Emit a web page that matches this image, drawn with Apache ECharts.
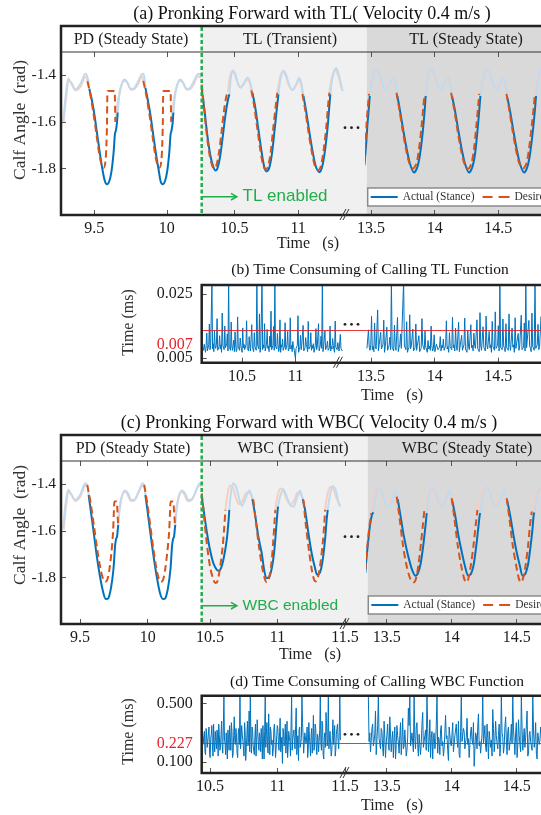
<!DOCTYPE html>
<html>
<head>
<meta charset="utf-8">
<script src="https://cdn.jsdelivr.net/npm/echarts@6/dist/echarts.min.js"></script>
<style>
html,body{margin:0;padding:0;background:#fff}
#chart{width:541px;height:815px}
</style>
</head>
<body>
<div id="chart"></div>
<script>
// ---------- Calf angle, pronking with TL (rad) ----------
// each piece is one stance or swing phase: [time (s), angle (rad)]
const tlPdActualSwing = [
  [[9.286,-1.596],[9.302,-1.489],[9.321,-1.414],[9.339,-1.433],[9.367,-1.461],[9.401,-1.440],[9.429,-1.401],[9.442,-1.393],[9.459,-1.426],[9.465,-1.458]],
  [[9.661,-1.560],[9.672,-1.489],[9.688,-1.440],[9.707,-1.418],[9.723,-1.426],[9.750,-1.458],[9.769,-1.458],[9.796,-1.433],[9.826,-1.397],[9.838,-1.393],[9.847,-1.418],[9.852,-1.454]],
  [[10.045,-1.560],[10.056,-1.489],[10.072,-1.440],[10.091,-1.418],[10.107,-1.426],[10.134,-1.458],[10.153,-1.458],[10.180,-1.433],[10.210,-1.397],[10.222,-1.393],[10.236,-1.405]]
];
const tlPdActualStance = [
  [[9.465,-1.458],[9.482,-1.504],[9.500,-1.567],[9.521,-1.660],[9.539,-1.738],[9.557,-1.809],[9.573,-1.855],[9.587,-1.868],[9.603,-1.855],[9.619,-1.809],[9.633,-1.730],[9.642,-1.652],[9.649,-1.635],[9.656,-1.603],[9.661,-1.560]],
  [[9.852,-1.454],[9.868,-1.504],[9.886,-1.567],[9.907,-1.660],[9.925,-1.738],[9.944,-1.809],[9.957,-1.855],[9.971,-1.868],[9.987,-1.855],[10.003,-1.809],[10.017,-1.730],[10.026,-1.652],[10.033,-1.635],[10.040,-1.603],[10.045,-1.560]]
];
const tlPdDesiredSwing = [
  [[9.288,-1.600],[9.305,-1.500],[9.325,-1.425],[9.345,-1.435],[9.372,-1.465],[9.405,-1.448],[9.432,-1.410],[9.445,-1.405],[9.452,-1.426]],
  [[9.645,-1.600],[9.660,-1.520],[9.675,-1.465],[9.695,-1.430],[9.712,-1.425],[9.730,-1.435],[9.755,-1.462],[9.775,-1.460],[9.800,-1.440],[9.828,-1.405],[9.837,-1.424]],
  [[10.030,-1.600],[10.045,-1.520],[10.060,-1.465],[10.080,-1.430],[10.097,-1.425],[10.115,-1.435],[10.140,-1.462],[10.160,-1.460],[10.185,-1.440],[10.213,-1.405],[10.236,-1.410]]
];
const tlPdDesiredStance = [
  [[9.452,-1.426],[9.470,-1.475],[9.493,-1.560],[9.516,-1.660],[9.534,-1.738],[9.551,-1.787],[9.564,-1.797],[9.576,-1.773],[9.583,-1.702],[9.587,-1.617],[9.589,-1.504],[9.592,-1.468],[9.617,-1.468],[9.640,-1.468],[9.642,-1.504],[9.645,-1.600]],
  [[9.837,-1.424],[9.855,-1.475],[9.878,-1.560],[9.901,-1.660],[9.919,-1.738],[9.936,-1.787],[9.949,-1.797],[9.961,-1.773],[9.968,-1.702],[9.972,-1.617],[9.974,-1.504],[9.977,-1.468],[10.002,-1.468],[10.025,-1.468],[10.027,-1.504],[10.030,-1.600]]
];

const tlTrActualStance = [
  [[10.241,-1.458],[10.262,-1.546],[10.286,-1.660],[10.312,-1.752],[10.333,-1.794],[10.349,-1.809],[10.364,-1.801],[10.385,-1.752],[10.406,-1.667],[10.427,-1.574],[10.448,-1.504],[10.459,-1.482]],
  [[10.640,-1.475],[10.661,-1.532],[10.687,-1.631],[10.713,-1.730],[10.734,-1.794],[10.753,-1.813],[10.771,-1.801],[10.792,-1.745],[10.813,-1.645],[10.832,-1.546],[10.845,-1.482]],
  [[11.042,-1.489],[11.063,-1.553],[11.089,-1.645],[11.115,-1.730],[11.141,-1.794],[11.168,-1.816],[11.189,-1.794],[11.210,-1.730],[11.231,-1.631],[11.246,-1.532],[11.254,-1.482]]
];
const tlTrActualSwing = [
  [[10.459,-1.482],[10.472,-1.404],[10.485,-1.379],[10.504,-1.393],[10.527,-1.435],[10.548,-1.454],[10.574,-1.433],[10.601,-1.411],[10.622,-1.430],[10.640,-1.475]],
  [[10.845,-1.482],[10.863,-1.411],[10.884,-1.379],[10.905,-1.397],[10.931,-1.444],[10.958,-1.464],[10.984,-1.440],[11.010,-1.411],[11.028,-1.440],[11.042,-1.489]],
  [[11.254,-1.482],[11.273,-1.404],[11.299,-1.369],[11.320,-1.397],[11.343,-1.450],[11.351,-1.468]]
];
const tlTrDesiredStance = [
  [[10.241,-1.440],[10.258,-1.530],[10.280,-1.650],[10.304,-1.745],[10.325,-1.790],[10.340,-1.800],[10.355,-1.790],[10.375,-1.740],[10.396,-1.650],[10.416,-1.555],[10.436,-1.488],[10.448,-1.470]],
  [[10.632,-1.465],[10.652,-1.525],[10.678,-1.625],[10.704,-1.725],[10.726,-1.788],[10.745,-1.805],[10.763,-1.792],[10.783,-1.735],[10.803,-1.635],[10.822,-1.540],[10.836,-1.475]],
  [[11.034,-1.480],[11.055,-1.545],[11.081,-1.640],[11.107,-1.725],[11.133,-1.790],[11.160,-1.808],[11.180,-1.788],[11.201,-1.722],[11.222,-1.622],[11.237,-1.525],[11.246,-1.475]]
];
const tlTrDesiredSwing = [
  [[10.448,-1.470],[10.462,-1.410],[10.478,-1.385],[10.498,-1.392],[10.522,-1.430],[10.545,-1.452],[10.572,-1.438],[10.598,-1.418],[10.618,-1.432],[10.632,-1.465]],
  [[10.836,-1.475],[10.855,-1.415],[10.877,-1.385],[10.900,-1.398],[10.927,-1.442],[10.955,-1.462],[10.982,-1.444],[11.006,-1.418],[11.022,-1.440],[11.034,-1.480]],
  [[11.246,-1.475],[11.266,-1.410],[11.292,-1.377],[11.315,-1.400],[11.338,-1.448],[11.349,-1.465]]
];

const tlSsActualStance = [
  [[13.448,-1.787],[13.461,-1.702],[13.471,-1.617],[13.482,-1.546],[13.490,-1.489]],
  [[13.707,-1.489],[13.728,-1.553],[13.754,-1.638],[13.780,-1.716],[13.806,-1.780],[13.838,-1.818],[13.864,-1.794],[13.885,-1.738],[13.906,-1.645],[13.922,-1.546],[13.929,-1.489]],
  [[14.136,-1.489],[14.160,-1.553],[14.186,-1.638],[14.212,-1.716],[14.238,-1.780],[14.270,-1.818],[14.296,-1.794],[14.317,-1.738],[14.335,-1.645],[14.351,-1.546],[14.359,-1.489]],
  [[14.571,-1.496],[14.592,-1.553],[14.618,-1.638],[14.644,-1.716],[14.670,-1.780],[14.702,-1.818],[14.728,-1.794],[14.749,-1.738],[14.770,-1.645],[14.788,-1.546],[14.796,-1.489]]
];
const tlSsActualSwing = [
  [[13.490,-1.489],[13.508,-1.418],[13.539,-1.373],[13.566,-1.393],[13.592,-1.440],[13.618,-1.458],[13.649,-1.433],[13.675,-1.411],[13.694,-1.440],[13.707,-1.489]],
  [[13.929,-1.489],[13.945,-1.418],[13.971,-1.372],[13.997,-1.393],[14.024,-1.444],[14.050,-1.461],[14.081,-1.433],[14.107,-1.411],[14.123,-1.440],[14.136,-1.489]],
  [[14.359,-1.489],[14.377,-1.418],[14.408,-1.372],[14.435,-1.393],[14.461,-1.444],[14.487,-1.461],[14.513,-1.433],[14.539,-1.411],[14.558,-1.440],[14.571,-1.496]],
  [[14.796,-1.489],[14.814,-1.418],[14.840,-1.373],[14.867,-1.393]]
];
const tlSsDesiredStance = [
  [[13.446,-1.770],[13.457,-1.690],[13.466,-1.600],[13.476,-1.530],[13.484,-1.480]],
  [[13.700,-1.475],[13.722,-1.545],[13.748,-1.635],[13.774,-1.715],[13.800,-1.775],[13.830,-1.800],[13.856,-1.780],[13.876,-1.720],[13.896,-1.625],[13.912,-1.530],[13.920,-1.480]],
  [[14.129,-1.475],[14.153,-1.545],[14.179,-1.635],[14.205,-1.715],[14.231,-1.775],[14.262,-1.802],[14.288,-1.780],[14.308,-1.720],[14.326,-1.625],[14.342,-1.530],[14.350,-1.480]],
  [[14.564,-1.480],[14.585,-1.545],[14.611,-1.635],[14.637,-1.715],[14.663,-1.775],[14.694,-1.800],[14.720,-1.780],[14.740,-1.720],[14.761,-1.625],[14.779,-1.530],[14.787,-1.480]]
];
const tlSsDesiredSwing = [
  [[13.484,-1.480],[13.502,-1.425],[13.533,-1.385],[13.560,-1.398],[13.588,-1.438],[13.615,-1.455],[13.645,-1.438],[13.672,-1.418],[13.690,-1.435],[13.700,-1.475]],
  [[13.920,-1.480],[13.938,-1.425],[13.965,-1.385],[13.992,-1.398],[14.020,-1.440],[14.046,-1.458],[14.077,-1.438],[14.103,-1.418],[14.118,-1.435],[14.129,-1.475]],
  [[14.350,-1.480],[14.370,-1.425],[14.402,-1.385],[14.430,-1.398],[14.457,-1.440],[14.483,-1.458],[14.509,-1.438],[14.535,-1.418],[14.552,-1.438],[14.564,-1.480]],
  [[14.787,-1.480],[14.806,-1.425],[14.834,-1.385],[14.862,-1.398]]
];

// ---------- Calf angle, pronking with WBC (rad) ----------
const wbcPdActualSwing = [
  [[9.377,-1.589],[9.394,-1.481],[9.414,-1.424],[9.434,-1.441],[9.463,-1.467],[9.500,-1.446],[9.530,-1.403],[9.545,-1.396],[9.557,-1.413],[9.564,-1.446]],
  [[9.783,-1.574],[9.796,-1.496],[9.813,-1.446],[9.833,-1.427],[9.852,-1.436],[9.882,-1.467],[9.907,-1.464],[9.939,-1.424],[9.963,-1.396],[9.976,-1.403],[9.983,-1.446]],
  [[10.204,-1.574],[10.217,-1.496],[10.234,-1.446],[10.254,-1.427],[10.273,-1.436],[10.303,-1.467],[10.328,-1.464],[10.360,-1.424],[10.384,-1.396],[10.396,-1.403]]
];
const wbcPdActualStance = [
  [[9.564,-1.446],[9.579,-1.510],[9.599,-1.596],[9.623,-1.703],[9.648,-1.796],[9.673,-1.867],[9.692,-1.893],[9.710,-1.889],[9.729,-1.846],[9.747,-1.767],[9.759,-1.667],[9.766,-1.636],[9.774,-1.624],[9.779,-1.596],[9.783,-1.574]],
  [[9.983,-1.446],[9.998,-1.510],[10.017,-1.596],[10.042,-1.703],[10.067,-1.796],[10.091,-1.867],[10.113,-1.893],[10.131,-1.889],[10.150,-1.846],[10.168,-1.767],[10.180,-1.667],[10.187,-1.636],[10.195,-1.624],[10.200,-1.596],[10.204,-1.574]]
];
const wbcPdDesiredSwing = [
  [[9.380,-1.595],[9.398,-1.490],[9.418,-1.432],[9.440,-1.448],[9.468,-1.472],[9.503,-1.452],[9.532,-1.410],[9.546,-1.403],[9.554,-1.403]],
  [[9.781,-1.567],[9.792,-1.500],[9.808,-1.455],[9.828,-1.433],[9.848,-1.440],[9.878,-1.472],[9.905,-1.468],[9.936,-1.430],[9.960,-1.405],[9.974,-1.403]],
  [[10.201,-1.567],[10.212,-1.500],[10.228,-1.455],[10.248,-1.433],[10.268,-1.440],[10.298,-1.472],[10.325,-1.468],[10.356,-1.430],[10.380,-1.405],[10.396,-1.410]]
];
const wbcPdDesiredStance = [
  [[9.554,-1.403],[9.579,-1.481],[9.604,-1.581],[9.628,-1.681],[9.653,-1.767],[9.673,-1.810],[9.687,-1.819],[9.702,-1.810],[9.717,-1.767],[9.732,-1.696],[9.744,-1.610],[9.751,-1.510],[9.756,-1.474],[9.771,-1.474],[9.776,-1.510],[9.781,-1.567]],
  [[9.974,-1.403],[9.997,-1.481],[10.020,-1.581],[10.043,-1.681],[10.066,-1.767],[10.085,-1.810],[10.099,-1.819],[10.114,-1.810],[10.129,-1.767],[10.144,-1.696],[10.158,-1.610],[10.166,-1.510],[10.171,-1.474],[10.188,-1.474],[10.194,-1.510],[10.201,-1.567]]
];

const wbcTrActualStance = [
  [[10.439,-1.453],[10.456,-1.524],[10.476,-1.603],[10.500,-1.681],[10.525,-1.739],[10.550,-1.767],[10.564,-1.771],[10.582,-1.760],[10.604,-1.710],[10.624,-1.639],[10.636,-1.567],[10.643,-1.510]],
  [[10.814,-1.464],[10.834,-1.531],[10.858,-1.624],[10.883,-1.696],[10.903,-1.774],[10.920,-1.803],[10.940,-1.796],[10.960,-1.753],[10.977,-1.681],[10.989,-1.596],[10.999,-1.524],[11.004,-1.496]],
  [[11.187,-1.464],[11.204,-1.510],[11.229,-1.610],[11.253,-1.696],[11.278,-1.760],[11.295,-1.789],[11.315,-1.779],[11.335,-1.724],[11.352,-1.639],[11.364,-1.553],[11.372,-1.510]]
];
const wbcTrActualSwing = [
  [[10.643,-1.510],[10.653,-1.446],[10.673,-1.396],[10.693,-1.410],[10.718,-1.467],[10.737,-1.493],[10.764,-1.460],[10.792,-1.427],[10.804,-1.441],[10.814,-1.464]],
  [[11.004,-1.496],[11.019,-1.453],[11.043,-1.421],[11.068,-1.453],[11.093,-1.489],[11.118,-1.496],[11.142,-1.460],[11.167,-1.427],[11.179,-1.446],[11.187,-1.464]],
  [[11.372,-1.510],[11.389,-1.446],[11.409,-1.407],[11.429,-1.421],[11.448,-1.467],[11.463,-1.496]]
];
const wbcTrDesiredStance = [
  [[10.439,-1.439],[10.456,-1.539],[10.476,-1.653],[10.500,-1.753],[10.525,-1.810],[10.540,-1.824],[10.555,-1.817],[10.574,-1.760],[10.594,-1.667],[10.606,-1.581],[10.614,-1.510]],
  [[10.821,-1.467],[10.841,-1.567],[10.866,-1.681],[10.890,-1.767],[10.908,-1.810],[10.920,-1.821],[10.935,-1.810],[10.955,-1.739],[10.969,-1.639],[10.979,-1.553],[10.984,-1.510]],
  [[11.192,-1.467],[11.211,-1.581],[11.236,-1.696],[11.256,-1.774],[11.271,-1.810],[11.283,-1.817],[11.298,-1.803],[11.315,-1.753],[11.335,-1.653],[11.347,-1.567],[11.352,-1.510]]
];
const wbcTrDesiredSwing = [
  [[10.614,-1.510],[10.628,-1.450],[10.648,-1.405],[10.668,-1.412],[10.690,-1.455],[10.715,-1.485],[10.742,-1.470],[10.772,-1.435],[10.800,-1.440],[10.821,-1.467]],
  [[10.984,-1.510],[11.000,-1.450],[11.022,-1.418],[11.046,-1.430],[11.072,-1.470],[11.098,-1.488],[11.124,-1.468],[11.150,-1.435],[11.172,-1.445],[11.192,-1.467]],
  [[11.352,-1.510],[11.368,-1.450],[11.390,-1.412],[11.412,-1.418],[11.435,-1.455],[11.460,-1.490]]
];

const wbcSsActualStance = [
  [[13.336,-1.781],[13.346,-1.710],[13.359,-1.639],[13.372,-1.574],[13.387,-1.531],[13.398,-1.521]],
  [[13.585,-1.464],[13.603,-1.524],[13.628,-1.610],[13.654,-1.681],[13.680,-1.739],[13.700,-1.774],[13.721,-1.793],[13.741,-1.781],[13.762,-1.739],[13.782,-1.660],[13.798,-1.581],[13.808,-1.524]],
  [[14.003,-1.467],[14.026,-1.531],[14.051,-1.617],[14.077,-1.689],[14.103,-1.753],[14.128,-1.793],[14.149,-1.784],[14.169,-1.746],[14.187,-1.674],[14.203,-1.596],[14.216,-1.531],[14.221,-1.524]],
  [[14.426,-1.467],[14.449,-1.531],[14.475,-1.617],[14.500,-1.692],[14.526,-1.753],[14.546,-1.793],[14.567,-1.784],[14.587,-1.746],[14.605,-1.674],[14.621,-1.596],[14.631,-1.531],[14.636,-1.521]]
];
const wbcSsActualSwing = [
  [[13.398,-1.521],[13.410,-1.467],[13.436,-1.413],[13.462,-1.431],[13.495,-1.489],[13.521,-1.496],[13.546,-1.460],[13.564,-1.427],[13.577,-1.446],[13.585,-1.464]],
  [[13.808,-1.524],[13.823,-1.460],[13.846,-1.413],[13.872,-1.431],[13.905,-1.484],[13.931,-1.496],[13.957,-1.464],[13.982,-1.427],[13.995,-1.446],[14.003,-1.467]],
  [[14.221,-1.524],[14.236,-1.464],[14.264,-1.413],[14.290,-1.431],[14.321,-1.484],[14.346,-1.493],[14.377,-1.460],[14.405,-1.427],[14.418,-1.446],[14.426,-1.467]],
  [[14.636,-1.521],[14.654,-1.460],[14.680,-1.417],[14.705,-1.427]]
];
const wbcSsDesiredStance = [
  [[13.336,-1.767],[13.351,-1.667],[13.367,-1.581],[13.382,-1.524]],
  [[13.577,-1.453],[13.598,-1.539],[13.623,-1.653],[13.649,-1.739],[13.675,-1.796],[13.692,-1.817],[13.708,-1.821],[13.726,-1.803],[13.746,-1.739],[13.764,-1.653],[13.780,-1.567],[13.790,-1.510]],
  [[14.000,-1.460],[14.021,-1.546],[14.046,-1.660],[14.072,-1.746],[14.095,-1.803],[14.110,-1.821],[14.126,-1.810],[14.146,-1.753],[14.167,-1.667],[14.185,-1.574],[14.198,-1.510]],
  [[14.423,-1.460],[14.444,-1.546],[14.469,-1.660],[14.495,-1.746],[14.516,-1.803],[14.531,-1.821],[14.546,-1.810],[14.567,-1.753],[14.587,-1.667],[14.603,-1.574],[14.616,-1.517]]
];
const wbcSsDesiredSwing = [
  [[13.382,-1.524],[13.395,-1.470],[13.420,-1.420],[13.448,-1.425],[13.478,-1.475],[13.508,-1.492],[13.535,-1.465],[13.556,-1.435],[13.570,-1.440],[13.577,-1.453]],
  [[13.790,-1.510],[13.808,-1.460],[13.834,-1.420],[13.862,-1.428],[13.895,-1.478],[13.922,-1.492],[13.948,-1.466],[13.975,-1.434],[13.990,-1.442],[14.000,-1.460]],
  [[14.198,-1.510],[14.215,-1.460],[14.248,-1.420],[14.278,-1.428],[14.310,-1.478],[14.336,-1.490],[14.366,-1.465],[14.396,-1.434],[14.412,-1.442],[14.423,-1.460]],
  [[14.616,-1.517],[14.634,-1.460],[14.662,-1.422],[14.690,-1.428]]
];

// ---------- Time spent per function call (ms), fixed-rate samples ----------
const tlCallTransientStart = 10.135, tlCallTransientStep = 0.006;
const tlCallTransient = [
  0.0066,0.0061,0.0071,0.0064,0.0058,0.0069,0.0094,0.0060,0.0063,0.0070,0.0118,0.0062,0.0069,0.0066,0.034,0.0063,0.0072,0.0059,0.0101,0.0068,
  0.0064,0.0071,0.0135,0.0061,0.0060,0.0067,0.0088,0.0063,0.0070,0.0058,0.0155,0.0069,0.0066,0.0062,0.0112,0.0065,0.0062,0.0072,0.0092,0.0060,
  0.034,0.0066,0.0068,0.0061,0.0124,0.0068,0.0061,0.0064,0.0079,0.0059,0.0097,0.0070,0.0059,0.0063,0.0141,0.0067,0.0067,0.0061,0.0083,0.0069,
  0.0063,0.0058,0.0107,0.0065,0.0071,0.0062,0.0062,0.0070,0.0128,0.0064,0.0065,0.0060,0.0086,0.0068,0.0060,0.0063,0.0116,0.0066,0.0069,0.0059,
  0.0095,0.0067,0.0064,0.0061,0.034,0.0070,0.0072,0.0063,0.0152,0.0058,0.0066,0.0068,0.034,0.0062,0.0070,0.0065,0.0119,0.0060,0.0062,0.0071,
  0.0103,0.0064,0.0068,0.0059,0.0087,0.0066,0.0163,0.0062,0.0065,0.0069,0.0111,0.0061,0.034,0.0067,0.0067,0.0063,0.0093,0.0070,0.0059,0.0064,
  0.0131,0.0058,0.0070,0.0066,0.0081,0.0061,0.0063,0.0068,0.0122,0.0062,0.0066,0.0071,0.0098,0.0060,0.0061,0.0065,0.0138,0.0063,0.0069,0.0059,
  0.0076,0.0067,0.0063,0.0061,0.0050,0.0064,0.0067,0.0069,0.0145,0.0058,0.0062,0.0066,0.0089,0.0062,0.0070,0.0068,0.0114,0.0060,0.0058,0.0065,
  0.0084,0.0071,0.0066,0.0059,0.0126,0.0063,0.0061,0.0067,0.0095,0.0061,0.0069,0.0064,0.0072,0.0058,0.0060,0.0069,0.0105,0.0062,0.0066,0.0066,
  0.0119,0.0060,0.0063,0.0070,0.0087,0.0064,0.034,0.0059,0.0068,0.0067,0.0099,0.0062,0.0061,0.0068,0.0077,0.0061,0.0064,0.0065,0.0112,0.0060,
  0.0067,0.0063,0.0082,0.0069,0.0062,0.0058,0.0127,0.0066,0.0069,0.0062,0.0074,0.0067,0.0060,0.0061,0.0091,0.0064,0.0065,0.0060
];
const tlCallSteadyStart = 13.468, tlCallSteadyStep = 0.006;
const tlCallSteady = [
  0.0064,0.0061,0.0102,0.0066,0.0061,0.0070,0.0143,0.0062,0.0068,0.0059,0.0121,0.0067,0.0063,0.0064,0.0168,0.0060,0.0070,0.0068,0.0096,0.0063,
  0.0062,0.0071,0.0130,0.0058,0.0067,0.0065,0.0109,0.0061,0.0065,0.0069,0.0085,0.0062,0.034,0.0066,0.0069,0.0060,0.0115,0.0067,0.0061,0.0063,
  0.0139,0.0059,0.0066,0.0070,0.0092,0.0064,0.0064,0.0061,0.034,0.0068,0.0070,0.0062,0.0125,0.0058,0.0062,0.0066,0.0149,0.0063,0.0067,0.0069,
  0.0104,0.0060,0.0063,0.0065,0.0118,0.0061,0.0069,0.0067,0.0088,0.0059,0.0061,0.0064,0.0135,0.0070,0.0066,0.0062,0.0099,0.0066,0.0064,0.0058,
  0.0078,0.0063,0.0068,0.0061,0.0112,0.0068,0.0060,0.0064,0.0090,0.0059,0.0066,0.0071,0.0073,0.0062,0.0063,0.0066,0.0086,0.0060,0.0069,0.0065,
  0.0081,0.0061,0.0062,0.0069,0.0128,0.0063,0.0067,0.0058,0.0095,0.0067,0.0064,0.0062,0.0140,0.0065,0.0070,0.0060,0.0106,0.0068,0.0061,0.0064,
  0.0123,0.0059,0.0068,0.0066,0.0089,0.0061,0.0063,0.0070,0.0137,0.0063,0.0066,0.0058,0.0101,0.0067,0.0062,0.0062,0.0116,0.0065,0.0069,0.0060,
  0.0094,0.0069,0.0064,0.0061,0.0131,0.0064,0.0067,0.0059,0.0157,0.0068,0.0061,0.0063,0.0110,0.0066,0.0068,0.0060,0.0144,0.0070,0.0063,0.0062,
  0.0098,0.0065,0.0070,0.0058,0.0126,0.0067,0.0065,0.0061,0.0160,0.0064,0.0062,0.0069,0.0113,0.0060,0.034,0.0066,0.0069,0.0062,0.0134,0.0068,
  0.0064,0.0059,0.0119,0.0065,0.0067,0.0061,0.0152,0.0070,0.0061,0.0063,0.0107,0.0066,0.0070,0.0058,0.0138,0.0064,0.0063,0.0067,0.0093,0.0061,
  0.0068,0.0069,0.0147,0.0062,0.0062,0.0066,0.0121,0.0060,0.034,0.0065,0.0066,0.0063,0.0129,0.0068,0.0064,0.0059,0.0155,0.0067,0.0069,0.0061,
  0.034,0.0064,0.0063,0.0070,0.0117,0.0062,0.0067,0.0066,0.0142,0.0060,0.0061,0.0068,0.0102,0.0063
];
const wbcCallTransientStart = 10.45, wbcCallTransientStep = 0.00425;
const wbcCallTransient = [
  .22,.28,.31,.17,.15,.33,.27,.20,.19,.30,.34,.16,.13,.26,.29,.35,.21,.14,.36,.24,
  .17,.31,.25,.19,.32,.27,.14,.36,.28,.18,.20,.29,.38,.22,.16,.34,.55,.25,.23,.15,
  .30,.21,.12,.32,.26,.18,.35,.27,.18,.37,.31,.13,.15,.28,.41,.24,.22,.33,.27,.16,
  .13,.30,.33,.22,.55,.19,.19,.35,.29,.25,.24,.14,.37,.31,.11,.20,.28,.38,.21,.26,
  .45,.17,.55,.29,.16,.34,.32,.21,.20,.15,.27,.36,.14,.23,.39,.30,.23,.18,.30,.27,
  .17,.33,.26,.12,.35,.24,.12,.31,.55,.20,.29,.37,.21,.16,.43,.28,.15,.34,.31,.22,
  .25,.14,.19,.32,.36,.26,.13,.19,.28,.35,.33,.23,.18,.30,.40,.17,.22,.27,.09,.33,
  .30,.21,.24,.36,.16,.25,.38,.13,.20,.31,.27,.24,.14,.34,.55,.18,.26,.29,.32,.22,
  .19,.35,.47,.15,.23,.28,.11,.32,.34,.20,.21,.26,.55,.37,.28,.16,.17,.30,.31,.23,
  .25,.34,.13,.19,.37,.27,.22,.14,.29,.33,.16,.25,.42,.18,.20,.36,.33,.21,.15,.29,
  .27,.17,.24,.32,.55,.23,.18,.38,.35,.15,.12,.27,.30,.20,.44,.34,.21,.26,.55,.19,
  .26,.31,.32,.14,.17,.28,.39,.22,.23,.35,.14,.18,.29,.33,.36,.24,.19,.30,.55,.25
];
const wbcCallSteadyStart = 13.359, wbcCallSteadyStep = 0.0055;
const wbcCallSteady = [
  .55,.24,.30,.17,.18,.33,.36,.21,.24,.29,.45,.15,.16,.35,.55,.26,.27,.19,.33,.31,
  .20,.14,.38,.27,.13,.23,.29,.36,.22,.18,.41,.30,.17,.25,.31,.13,.26,.34,.12,.22,
  .35,.28,.23,.16,.28,.37,.15,.24,.40,.19,.21,.32,.33,.14,.18,.27,.47,.35,.55,.21,
  .25,.30,.30,.17,.55,.26,.19,.34,.37,.22,.14,.29,.28,.15,.23,.36,.44,.20,.20,.28,
  .32,.18,.55,.33,.17,.24,.39,.13,.26,.31,.12,.27,.30,.19,.22,.35,.55,.16,.27,.25,
  .15,.32,.35,.21,.24,.14,.19,.30,.42,.26,.28,.18,.11,.34,.33,.23,.21,.29,.37,.17,
  .16,.28,.29,.36,.25,.20,.38,.15,.13,.31,.55,.24,.23,.33,.31,.19,.18,.27,.40,.22,
  .26,.13,.14,.30,.34,.25,.22,.37,.07,.18,.30,.28,.19,.34,.43,.21,.24,.16,.16,.29,
  .55,.23,.28,.35,.20,.17,.36,.26,.12,.31,.32,.20,.25,.14,.46,.33,.17,.24,.38,.28,
  .23,.19,.29,.36,.14,.22,.55,.30,.27,.16,.21,.34,.41,.25,.15,.31,.34,.18,.19,.27,
  .36,.23,.55,.32,.24,.15,.30,.37,.13,.21,.39,.28,.22,.17,.55,.33,.18,.26,.33,.20,
  .27,.35,.45,.14,.16,.29,.31,.24,.23,.18,.55,.32,.20,.25,.37,.16,.12,.30,.29,.22,
  .25,.34,.35,.21
];
const tlMeanCall = 0.007;
const wbcMeanCall = 0.227;

// ---------- tick labels ----------
const tlPdTicks = [9.5, 10];
const tlTrTicks = [10.5, 11];
const tlSsTicks = [13.5, 14, 14.5];
const wbcPdTicks = [9.5, 10];
const wbcTrTicks = [10.5, 11, 11.5];
const wbcSsTicks = [13.5, 14, 14.5];
const angleTicks = [-1.8, -1.6, -1.4];
const tlCallTicks = [0.005, 0.025];
const wbcCallTicks = [0.1, 0.227, 0.5];

// ---------- helpers ----------
const SERIF = "'Liberation Serif','Times New Roman',serif";
const SANS = "'Liberation Sans',Arial,sans-serif";
const BLUE = '#0072BD', ORANGE = '#D95319', GREEN = '#21ad4b', RED = '#e4222a';
const BLUE_FAINT = '#c2daef', ORANGE_FAINT = '#f4d0c1';

function joinPieces(pieces) {
  const out = [];
  pieces.forEach((p, k) => { if (k) out.push(['-', '-']); p.forEach(pt => out.push(pt)); });
  return out;
}
function sampled(start, step, values) {
  return values.map((v, i) => [start + i * step, v]);
}
function xBottom(grid, min, max, ticks) {
  return {
    type: 'value', gridIndex: grid, min: min, max: max, position: 'bottom',
    axisLine: { show: false }, splitLine: { show: false },
    axisTick: { inside: true, length: 5, customValues: ticks, lineStyle: { color: '#555', width: 1 } },
    axisLabel: { customValues: ticks, margin: 6, fontSize: 16, color: '#1a1a1a', fontFamily: SERIF, hideOverlap: false }
  };
}
function xTop(grid, min, max, ticks) {
  return {
    type: 'value', gridIndex: grid, min: min, max: max, position: 'top',
    axisLine: { show: false }, splitLine: { show: false },
    axisTick: { inside: true, length: 5, customValues: ticks, lineStyle: { color: '#555', width: 1 } },
    axisLabel: { show: false }
  };
}
function yHidden(grid, min, max, type) {
  return { type: type || 'value', gridIndex: grid, min: min, max: max, show: false };
}
function yAngle(grid) {
  return {
    type: 'value', gridIndex: grid, min: -2.0, max: -1.3, position: 'left',
    axisLine: { show: false }, splitLine: { show: false },
    axisTick: { inside: true, length: 5, customValues: angleTicks, lineStyle: { color: '#555', width: 1 } },
    axisLabel: { customValues: angleTicks, margin: 5, fontSize: 15.5, color: '#1a1a1a', fontFamily: SERIF }
  };
}
function curves(xi, yi, aSw, dSw, aSt, dSt) {
  const base = { type: 'line', xAxisIndex: xi, yAxisIndex: yi, symbol: 'none', showSymbol: false,
                 smooth: 0.3, silent: true, animation: false, clip: true };
  return [
    Object.assign({}, base, { data: joinPieces(dSw), z: 2, lineStyle: { color: ORANGE_FAINT, width: 2 } }),
    Object.assign({}, base, { data: joinPieces(aSw), z: 2, lineStyle: { color: BLUE_FAINT, width: 2 } }),
    Object.assign({}, base, { name: 'Actual (Stance)', data: joinPieces(aSt), z: 3, itemStyle: { color: BLUE }, lineStyle: { color: BLUE, width: 2 } }),
    Object.assign({}, base, { name: 'Desired', data: joinPieces(dSt), z: 4, itemStyle: { color: ORANGE }, lineStyle: { color: ORANGE, width: 2, type: [7, 4] } })
  ];
}
function callSeries(xi, yi, data, mean) {
  return {
    type: 'line', xAxisIndex: xi, yAxisIndex: yi, data: data, symbol: 'none', showSymbol: false,
    silent: true, animation: false, clip: true, z: 2,
    lineStyle: { color: BLUE, width: 1 },
    markLine: { silent: true, symbol: 'none', animation: false, label: { show: false },
      lineStyle: { color: RED, width: 1.2, type: 'solid', opacity: 0.9 },
      data: [{ yAxis: mean }] }
  };
}
function text(x, y, str, size, extra) {
  return Object.assign({ type: 'text', x: x, y: y, z: 60,
    style: Object.assign({ text: str, fontSize: size, fontFamily: SERIF, fill: '#1a1a1a',
                           align: 'center', verticalAlign: 'middle' }, (extra && extra.style) || {}) },
    extra && extra.rotation ? { rotation: extra.rotation } : {});
}
function rect(x, y, w, h, style, z) {
  return { type: 'rect', z: z, shape: { x: x, y: y, width: w, height: h }, style: style };
}
function seg(x1, y1, x2, y2, style, z) {
  return { type: 'line', z: z, shape: { x1: x1, y1: y1, x2: x2, y2: y2 }, style: style };
}
function dots(x, y) {
  return [0, 6.5, 13].map(d => ({ type: 'circle', z: 60, shape: { cx: x + d, cy: y, r: 1.4 }, style: { fill: '#222' } }));
}
function breakMark(x, y) {
  return [seg(x - 5, y + 5, x + 1, y - 6, { stroke: '#333', lineWidth: 1 }, 110),
          seg(x - 2, y + 5, x + 4, y - 6, { stroke: '#333', lineWidth: 1 }, 110)];
}
function enabledArrow(y, label, size) {
  return [
    seg(203, y, 236.5, y, { stroke: GREEN, lineWidth: 1.5 }, 60),
    { type: 'polyline', z: 60, shape: { points: [[231, y - 3.3], [236.8, y], [231, y + 3.3]] }, style: { stroke: GREEN, lineWidth: 1.5, fill: null } },
    text(242.5, y, label, size, { style: { fontFamily: SANS, fill: GREEN, align: 'left' } })
  ];
}

const frameStyle = { fill: null, stroke: '#222', lineWidth: 2.5 };

const graphics = [].concat(
  // phase shading
  rect(201.7, 26, 165, 189, { fill: '#f0f0f0' }, -10),
  rect(366.7, 26, 200, 189, { fill: '#d9d9d9' }, -10),
  rect(201.7, 435, 166, 189, { fill: '#f0f0f0' }, -10),
  rect(367.7, 435, 200, 189, { fill: '#d9d9d9' }, -10),
  // frames and header separators
  rect(61, 26, 560, 189, frameStyle, 100),
  seg(61, 52, 600, 52, { stroke: '#333', lineWidth: 1.2 }, 100),
  rect(61, 435, 560, 189, frameStyle, 100),
  seg(61, 461, 600, 461, { stroke: '#333', lineWidth: 1.2 }, 100),
  rect(201.7, 285, 400, 77.7, frameStyle, 100),
  rect(201.7, 695.7, 400, 77.3, frameStyle, 100),
  // controller switch-over markers
  seg(201.7, 27, 201.7, 214, { stroke: GREEN, lineWidth: 2.5, lineDash: [4, 2.5] }, 50),
  seg(201.7, 436, 201.7, 623, { stroke: GREEN, lineWidth: 2.5, lineDash: [4, 2.5] }, 50),
  enabledArrow(196.7, 'TL enabled', 17),
  enabledArrow(605.7, 'WBC enabled', 15.5),
  // phase headers
  text(131, 39.5, 'PD (Steady State)', 16),
  text(290, 39.5, 'TL (Transient)', 16),
  text(466, 39.5, 'TL (Steady State)', 16),
  text(133, 448.5, 'PD (Steady State)', 16),
  text(293, 448.5, 'WBC (Transient)', 16),
  text(467, 448.5, 'WBC (Steady State)', 16),
  // titles
  text(312, 14, '(a) Pronking Forward with TL( Velocity 0.4 m/s )', 18, { style: { fill: '#111' } }),
  text(370, 269.5, '(b) Time Consuming of Calling TL Function', 15.5, { style: { fill: '#111' } }),
  text(309, 423.5, '(c) Pronking Forward with WBC( Velocity 0.4 m/s )', 18, { style: { fill: '#111' } }),
  text(377, 682, '(d) Time Consuming of Calling WBC Function', 15.5, { style: { fill: '#111' } }),
  // axis names
  text(308, 243.5, 'Time   (s)', 16, { style: { fill: '#222' } }),
  text(392, 395.5, 'Time   (s)', 16, { style: { fill: '#222' } }),
  text(310, 655, 'Time   (s)', 16, { style: { fill: '#222' } }),
  text(392, 806, 'Time   (s)', 16, { style: { fill: '#222' } }),
  text(20, 120, 'Calf Angle  (rad)', 17.5, { rotation: Math.PI / 2, style: { fill: '#333' } }),
  text(20, 525, 'Calf Angle  (rad)', 17.5, { rotation: Math.PI / 2, style: { fill: '#333' } }),
  text(129, 322.5, 'Time (ms)', 16, { rotation: Math.PI / 2, style: { fill: '#333' } }),
  text(129, 731.5, 'Time (ms)', 16, { rotation: Math.PI / 2, style: { fill: '#333' } }),
  // skipped-time ellipses and axis breaks
  dots(345, 127.7), dots(345, 324.3), dots(345, 536.7), dots(345, 734.3),
  breakMark(345, 215), breakMark(338.5, 362.7), breakMark(345, 624), breakMark(345, 773)
);

// ---------- axis ranges ----------
const xr = {
  tlPd: [9.27, 10.2403], tlTr: [10.241, 11.5402], tlSs: [13.466, 15.0371],
  tlCallTr: [10.1234, 11.6654], tlCallSs: [13.466, 15.0371],
  wbcPd: [9.36, 10.3991], wbcTr: [10.4385, 11.6681], wbcSs: [13.354, 14.8925]
};
const tlCallRange = [0.00447, 0.0314];
const wbcCallRange = [0.024, 0.555];
const lg = Math.log10;

// decade-scale label axis for the logarithmic call-time panel
function tlCallLabelAxis(values, color, ticks) {
  return {
    type: 'value', gridIndex: 3, min: lg(tlCallRange[0]), max: lg(tlCallRange[1]), position: 'left',
    axisLine: { show: false }, splitLine: { show: false },
    axisTick: { show: ticks, inside: true, length: 5, customValues: values.map(lg), lineStyle: { color: '#555' } },
    axisLabel: { customValues: values.map(lg), margin: 9, fontSize: 16, fontFamily: SERIF, color: color,
      hideOverlap: false, formatter: v => Math.pow(10, v).toFixed(3) }
  };
}

const legendStyle = {
  width: 300, selectedMode: false,
  data: [
    { name: 'Actual (Stance)', icon: 'path://M0,0h27v2h-27z' },
    { name: 'Desired', icon: 'path://M0,0h10v2h-10z M16,0h11v2h-11z' }
  ],
  backgroundColor: '#fff', borderColor: '#8a8a8a', borderWidth: 1.5, padding: [3, 6, 3, 3],
  itemWidth: 27, itemHeight: 2, itemGap: 8, z: 30,
  textStyle: { fontFamily: SERIF, fontSize: 11.5, color: '#333' }
};

const option = {
  animation: false,
  backgroundColor: '#fff',
  grid: [
    { left: 61, top: 52, width: 140.7, height: 163 },
    { left: 201.7, top: 52, width: 165, height: 163 },
    { left: 366.7, top: 52, width: 200, height: 163 },
    { left: 201.7, top: 285, width: 165, height: 77.7 },
    { left: 366.7, top: 285, width: 200, height: 77.7 },
    { left: 61, top: 461, width: 140.7, height: 163 },
    { left: 201.7, top: 461, width: 166, height: 163 },
    { left: 367.7, top: 461, width: 200, height: 163 },
    { left: 201.7, top: 695.7, width: 166, height: 77.3 },
    { left: 367.7, top: 695.7, width: 200, height: 77.3 }
  ].map(g => Object.assign(g, { outerBoundsMode: 'none', containLabel: false, show: false })),
  xAxis: [
    xBottom(0, xr.tlPd[0], xr.tlPd[1], tlPdTicks),
    xBottom(1, xr.tlTr[0], xr.tlTr[1], tlTrTicks),
    xBottom(2, xr.tlSs[0], xr.tlSs[1], tlSsTicks),
    xBottom(3, xr.tlCallTr[0], xr.tlCallTr[1], tlTrTicks),
    xBottom(4, xr.tlCallSs[0], xr.tlCallSs[1], tlSsTicks),
    xBottom(5, xr.wbcPd[0], xr.wbcPd[1], wbcPdTicks),
    xBottom(6, xr.wbcTr[0], xr.wbcTr[1], wbcTrTicks),
    xBottom(7, xr.wbcSs[0], xr.wbcSs[1], wbcSsTicks),
    xBottom(8, xr.wbcTr[0], xr.wbcTr[1], wbcTrTicks),
    xBottom(9, xr.wbcSs[0], xr.wbcSs[1], wbcSsTicks),
    xTop(0, xr.tlPd[0], xr.tlPd[1], tlPdTicks),
    xTop(1, xr.tlTr[0], xr.tlTr[1], tlTrTicks),
    xTop(2, xr.tlSs[0], xr.tlSs[1], tlSsTicks),
    xTop(5, xr.wbcPd[0], xr.wbcPd[1], wbcPdTicks),
    xTop(6, xr.wbcTr[0], xr.wbcTr[1], wbcTrTicks),
    xTop(7, xr.wbcSs[0], xr.wbcSs[1], wbcSsTicks)
  ],
  yAxis: [
    yAngle(0),
    yHidden(1, -2.0, -1.3),
    yHidden(2, -2.0, -1.3),
    yHidden(3, tlCallRange[0], tlCallRange[1], 'log'),
    yHidden(4, tlCallRange[0], tlCallRange[1], 'log'),
    yAngle(5),
    yHidden(6, -2.0, -1.3),
    yHidden(7, -2.0, -1.3),
    {
      type: 'value', gridIndex: 8, min: wbcCallRange[0], max: wbcCallRange[1], position: 'left',
      axisLine: { show: false }, splitLine: { show: false },
      axisTick: { inside: true, length: 5, customValues: [0.1, 0.5], lineStyle: { color: '#555' } },
      axisLabel: { customValues: wbcCallTicks, margin: 9, fontSize: 16, fontFamily: SERIF, hideOverlap: false,
        formatter: v => Number(v).toFixed(3),
        color: v => Math.abs(v - wbcMeanCall) < 1e-6 ? RED : '#1a1a1a' }
    },
    yHidden(9, wbcCallRange[0], wbcCallRange[1]),
    tlCallLabelAxis(tlCallTicks, '#1a1a1a', true),
    tlCallLabelAxis([tlMeanCall], RED, false)
  ],
  legend: [
    Object.assign({ left: 367.7, top: 188 }, legendStyle),
    Object.assign({ left: 368.3, top: 596 }, legendStyle)
  ],
  graphic: { elements: graphics },
  series: [].concat(
    curves(0, 0, tlPdActualSwing, tlPdDesiredSwing, tlPdActualStance, tlPdDesiredStance),
    curves(1, 1, tlTrActualSwing, tlTrDesiredSwing, tlTrActualStance, tlTrDesiredStance),
    curves(2, 2, tlSsActualSwing, tlSsDesiredSwing, tlSsActualStance, tlSsDesiredStance),
    callSeries(3, 3, sampled(tlCallTransientStart, tlCallTransientStep, tlCallTransient), tlMeanCall),
    callSeries(4, 4, sampled(tlCallSteadyStart, tlCallSteadyStep, tlCallSteady), tlMeanCall),
    curves(5, 5, wbcPdActualSwing, wbcPdDesiredSwing, wbcPdActualStance, wbcPdDesiredStance),
    curves(6, 6, wbcTrActualSwing, wbcTrDesiredSwing, wbcTrActualStance, wbcTrDesiredStance),
    curves(7, 7, wbcSsActualSwing, wbcSsDesiredSwing, wbcSsActualStance, wbcSsDesiredStance),
    callSeries(8, 8, sampled(wbcCallTransientStart, wbcCallTransientStep, wbcCallTransient), wbcMeanCall),
    callSeries(9, 9, sampled(wbcCallSteadyStart, wbcCallSteadyStep, wbcCallSteady), wbcMeanCall)
  )
};

const chart = echarts.init(document.getElementById('chart'), null, { renderer: 'canvas', width: 541, height: 815 });
chart.setOption(option);
</script>
</body>
</html>
